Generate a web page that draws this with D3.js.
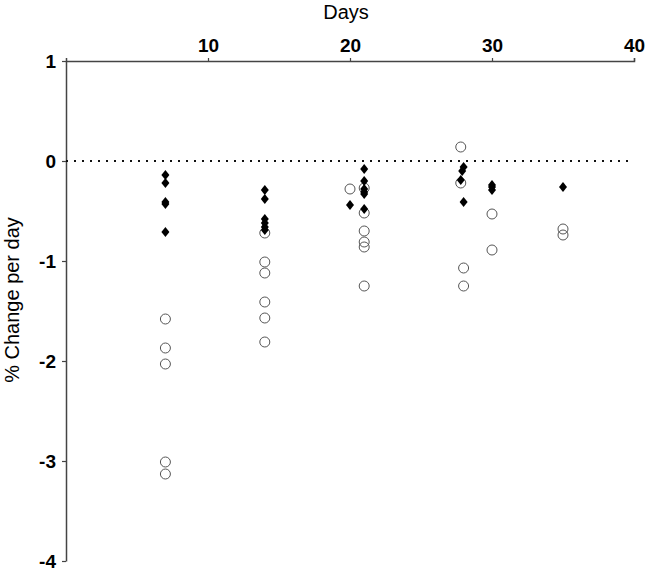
<!DOCTYPE html>
<html>
<head>
<meta charset="utf-8">
<script src="https://cdn.jsdelivr.net/npm/d3@7"></script>
<style>
html,body{margin:0;padding:0;background:#fff;}
svg{display:block;}
</style>
</head>
<body>
<svg id="chart" width="646" height="571"></svg>
<script>
// Data
const xTicks = [10, 20, 30, 40];
const yTicks = [1, 0, -1, -2, -3, -4];

// filled diamonds
const diamondDays = [7,7,7,7,7, 14,14,14,14,14,14, 20, 21,21,21,21,21,21, 28,27.9,27.8,28, 30,30,30, 35];
const diamondVals = [-0.14,-0.22,-0.41,-0.43,-0.71, -0.29,-0.38,-0.58,-0.62,-0.66,-0.69, -0.44, -0.08,-0.20,-0.28,-0.31,-0.33,-0.48, -0.06,-0.10,-0.19,-0.41, -0.24,-0.26,-0.29, -0.26];

// open circles
const circleDays = [7,7,7,7,7, 14,14,14,14,14,14, 20, 21,21,21,21,21,21, 27.8,27.8,28,28, 30,30, 35,35];
const circleVals = [-1.58,-1.87,-2.03,-3.01,-3.13, -0.72,-1.01,-1.12,-1.41,-1.57,-1.81, -0.28, -0.27,-0.52,-0.70,-0.81,-0.86,-1.25, 0.14,-0.22,-1.07,-1.25, -0.53,-0.89, -0.68,-0.74];

const svg = d3.select("#chart");
const x = d3.scaleLinear().domain([0, 40]).range([66, 634]);
const y = d3.scaleLinear().domain([1, -4]).range([61, 561]);

const axisColor = "#444";
const fontFam = "'Liberation Sans', Arial, sans-serif";

// x axis on top
const gx = svg.append("g").attr("transform", `translate(0,${y(1)})`)
  .call(d3.axisTop(x).tickValues(xTicks).tickFormat(d => String(d)).tickSize(3).tickPadding(6).tickSizeOuter(3));
gx.select(".domain").attr("stroke", axisColor).attr("stroke-width", 1.5);
gx.selectAll(".tick line").attr("stroke", axisColor).attr("stroke-width", 1.2);
gx.selectAll(".tick text").attr("fill", "#000")
  .style("font-family", fontFam)
  .style("font-size", "19px").style("font-weight", "bold");

// y axis
const gy = svg.append("g").attr("transform", `translate(${x(0)},0)`)
  .call(d3.axisLeft(y).tickValues(yTicks).tickFormat(d => String(d)).tickSize(4).tickPadding(6).tickSizeOuter(0));
gy.select(".domain").attr("stroke", axisColor).attr("stroke-width", 1.5);
gy.selectAll(".tick line").attr("stroke", axisColor).attr("stroke-width", 1.2);
gy.selectAll(".tick text").attr("fill", "#000")
  .style("font-family", fontFam)
  .style("font-size", "19px").style("font-weight", "bold");

// zero dotted line
svg.append("line")
  .attr("x1", x(0)).attr("x2", x(40))
  .attr("y1", y(0)).attr("y2", y(0))
  .attr("stroke", "#111").attr("stroke-width", 2.2)
  .attr("stroke-dasharray", "2,6");

// circles
const circles = d3.range(circleDays.length).map(i => ({d: circleDays[i], v: circleVals[i]}));
svg.append("g").selectAll("circle").data(circles).join("circle")
  .attr("cx", p => x(p.d)).attr("cy", p => y(p.v)).attr("r", 5)
  .attr("fill", "none").attr("stroke", "#555").attr("stroke-width", 1);

// diamonds
const diamonds = d3.range(diamondDays.length).map(i => ({d: diamondDays[i], v: diamondVals[i]}));
svg.append("g").selectAll("path").data(diamonds).join("path")
  .attr("d", "M0,-5L4,0L0,5L-4,0Z")
  .attr("transform", p => `translate(${x(p.d)},${y(p.v)})`)
  .attr("fill", "#000");

// axis titles
svg.append("text").attr("x", 346).attr("y", 19).attr("text-anchor", "middle")
  .style("font-family", fontFam).style("font-size", "20px")
  .attr("fill", "#000").text("Days");
svg.append("text").attr("transform", "translate(19,300) rotate(-90)").attr("text-anchor", "middle")
  .style("font-family", fontFam).style("font-size", "20px")
  .attr("fill", "#000").text("% Change per day");
</script>
</body>
</html>
